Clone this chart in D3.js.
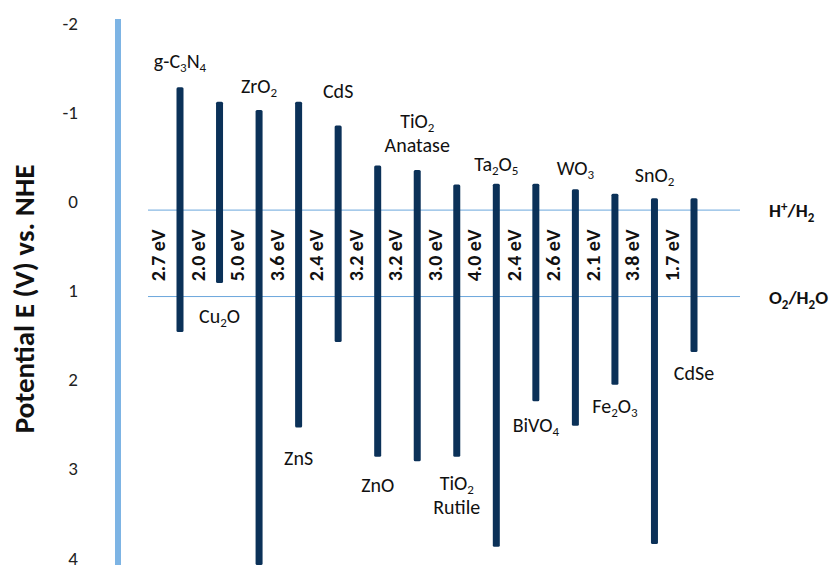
<!DOCTYPE html>
<html>
<head>
<meta charset="utf-8">
<script src="https://cdn.jsdelivr.net/npm/d3@7"></script>
<style>
  html, body { margin: 0; padding: 0; background: #fff; }
  svg { display: block; font-family: Carlito, Calibri, Lato, sans-serif; }
</style>
</head>
<body>
<svg id="chart" width="838" height="569"></svg>
<script>
// ---- data ----
const materials = ["g-C_3N_4", "Cu_2O", "ZrO_2", "ZnS", "CdS", "ZnO", "TiO_2|Anatase", "TiO_2|Rutile",
                   "Ta_2O_5", "BiVO_4", "WO_3", "Fe_2O_3", "SnO_2", "CdSe"];
const conductionBand = [-1.25, -1.09, -1.00, -1.09, -0.83, -0.39, -0.34, -0.18, -0.19, -0.19, -0.13, -0.08, -0.03, -0.03];
const valenceBand    = [ 1.44,  0.90,  4.00,  2.49,  1.55,  2.81,  2.86,  2.81,  3.80,  2.20,  2.47,  2.02,  3.77,  1.66];
const gapLabels = ["2.7 eV", "2.0 eV", "5.0 eV", "3.6 eV", "2.4 eV", "3.2 eV", "3.2 eV", "3.0 eV",
                   "4.0 eV", "2.4 eV", "2.6 eV", "2.1 eV", "3.8 eV", "1.7 eV"];
const yTicks = [-2, -1, 0, 1, 2, 3, 4];
const refLevels = [0.1, 1.05];
const refLabels = ["H^+/H_2", "O_2/H_2O"];
const axisTitle = "Potential E (V) vs. NHE";

// ---- layout ----
const svg = d3.select("#chart");
const y = d3.scaleLinear().domain([-2, 4]).range([19, 565]);
const yLabel = d3.scaleLinear().domain([-2, 4]).range([25, 560]);
const x = d3.scalePoint().domain(d3.range(materials.length)).range([180, 694]);
const labelOffset = [19, 40, 17, 37, 27, 35, 18, 33, 13, 31, 14, 28, 16, 28];
const lineH = 24;
const barColor = "#0b3158";
const axisColor = "#7db4e4";
const refColor = "#6aa6dc";

// helper to write text with _sub and ^sup markup (no empty tspans)
function richText(sel, str, subSize, subDrop) {
  const parts = str.match(/(\^.|_.|[^_^]+)/g);
  let pending = 0;
  parts.forEach(p => {
    if (p[0] === "_") {
      sel.append("tspan").attr("font-size", subSize).attr("dy", pending + subDrop).text(p[1]);
      pending = -subDrop;
    } else if (p[0] === "^") {
      sel.append("tspan").attr("font-size", subSize).attr("dy", pending - 6).text(p[1]);
      pending = 6;
    } else {
      sel.append("tspan").attr("dy", pending).text(p);
      pending = 0;
    }
  });
}

// axis bar
svg.append("line")
  .attr("x1", 118).attr("x2", 118)
  .attr("y1", y(-2)).attr("y2", y(4))
  .attr("stroke", axisColor).attr("stroke-width", 6);

// tick labels
svg.selectAll("text.tick").data(yTicks).join("text")
  .attr("class", "tick")
  .attr("x", 78).attr("y", d => yLabel(d))
  .attr("text-anchor", "end").attr("dominant-baseline", "middle")
  .attr("font-size", 19).attr("fill", "#222")
  .text(d => d);

// axis title
svg.append("text")
  .attr("transform", `translate(34, 299) rotate(-90)`)
  .attr("text-anchor", "middle")
  .attr("font-size", 29).attr("font-weight", "bold").attr("fill", "#111")
  .text(axisTitle);

// reference lines
refLevels.forEach((v, i) => {
  svg.append("line")
    .attr("x1", 148).attr("x2", 740)
    .attr("y1", y(v)).attr("y2", y(v))
    .attr("stroke", refColor).attr("stroke-width", 1);
  const t = svg.append("text")
    .attr("x", 769).attr("y", y(v) + 7)
    .attr("font-size", 19).attr("font-weight", "bold").attr("fill", "#111");
  richText(t, refLabels[i], 13, 5);
});

// bars
svg.selectAll("rect.bar").data(materials).join("rect")
  .attr("class", "bar")
  .attr("x", (d, i) => x(i) - 3.5).attr("width", 7)
  .attr("y", (d, i) => y(conductionBand[i]))
  .attr("height", (d, i) => y(valenceBand[i]) - y(conductionBand[i]))
  .attr("rx", 1.5)
  .attr("fill", barColor);

// band gap labels
const midY = (y(refLevels[0]) + y(refLevels[1])) / 2 + 2;
svg.selectAll("text.gap").data(gapLabels).join("text")
  .attr("class", "gap")
  .attr("transform", (d, i) => `translate(${x(i) - 15}, ${midY}) rotate(-90)`)
  .attr("text-anchor", "middle")
  .attr("font-size", 20).attr("font-weight", "bold").attr("fill", "#111")
  .text(d => d);

// material labels
materials.forEach((m, i) => {
  const lines = m.split("|");
  const top = i % 2 === 0;
  lines.forEach((ln, j) => {
    let yy;
    if (top) {
      yy = y(conductionBand[i]) - labelOffset[i] - (lines.length - 1 - j) * lineH;
    } else {
      yy = y(valenceBand[i]) + labelOffset[i] + j * lineH;
    }
    const t = svg.append("text")
      .attr("x", x(i)).attr("y", yy)
      .attr("text-anchor", "middle")
      .attr("font-size", 20).attr("fill", "#111");
    richText(t, ln, 13, 4);
  });
});
</script>
</body>
</html>
